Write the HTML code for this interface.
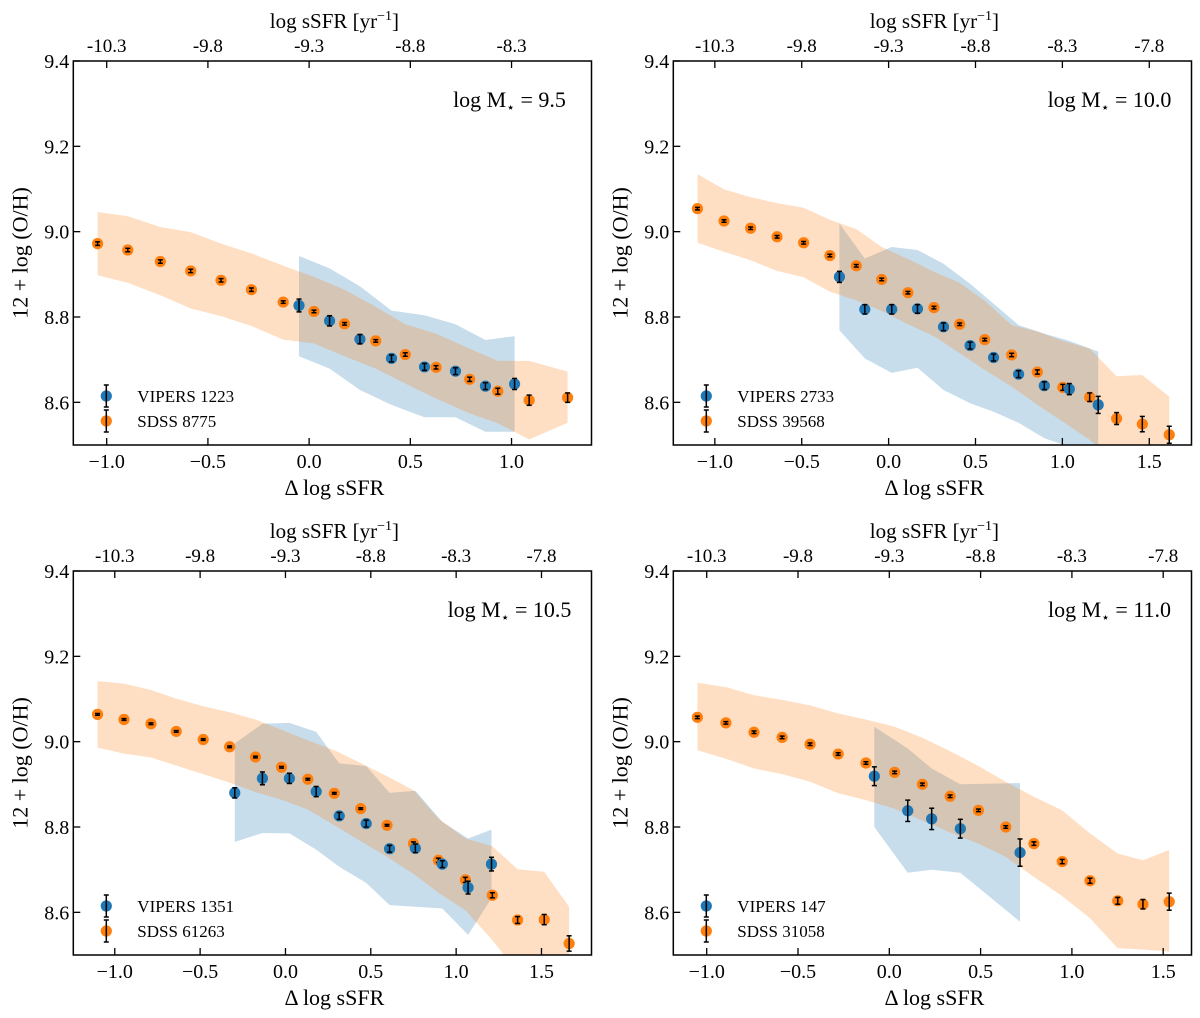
<!DOCTYPE html>
<html><head><meta charset="utf-8"><title>Metallicity vs sSFR</title>
<style>
html,body{margin:0;padding:0;background:#fff;}
svg{display:block;font-family:"Liberation Serif",serif;}
</style></head>
<body>
<svg id="fig" width="1200" height="1018" viewBox="0 0 1200 1018" xmlns="http://www.w3.org/2000/svg"></svg>
<script>
// ---------- Panel 1: log M = 9.5 ----------
const p1SdssX = [-1.045,-0.896,-0.735,-0.585,-0.435,-0.285,-0.128,0.024,0.175,0.329,0.475,0.627,0.793,0.932,1.087,1.277];
const p1SdssY = [8.972,8.957,8.930,8.908,8.886,8.864,8.835,8.813,8.784,8.744,8.712,8.682,8.654,8.626,8.605,8.611];
const p1SdssErr = [0.004,0.004,0.004,0.004,0.004,0.004,0.003,0.003,0.003,0.003,0.004,0.004,0.005,0.007,0.012,0.011];
const p1SdssHi = [9.046,9.036,9.011,8.999,8.972,8.949,8.920,8.894,8.864,8.824,8.783,8.761,8.726,8.697,8.697,8.672];
const p1SdssLo = [8.898,8.880,8.851,8.820,8.802,8.779,8.747,8.738,8.708,8.679,8.644,8.609,8.574,8.551,8.513,8.552];
const p1VipX = [-0.050,0.101,0.251,0.407,0.570,0.723,0.871,1.015];
const p1VipY = [8.827,8.791,8.748,8.703,8.683,8.673,8.638,8.643];
const p1VipErr = [0.015,0.012,0.011,0.008,0.008,0.008,0.008,0.013];
const p1VipHi = [8.943,8.914,8.872,8.815,8.804,8.783,8.746,8.755];
const p1VipLo = [8.708,8.679,8.629,8.594,8.565,8.565,8.531,8.531];

// ---------- Panel 2: log M = 10.0 ----------
const p2SdssX = [-1.100,-0.947,-0.794,-0.642,-0.489,-0.338,-0.186,-0.040,0.111,0.261,0.409,0.553,0.708,0.856,1.002,1.157,1.312,1.460,1.615];
const p2SdssY = [9.054,9.025,9.008,8.988,8.974,8.944,8.920,8.888,8.857,8.822,8.783,8.747,8.711,8.671,8.635,8.612,8.562,8.549,8.524];
const p2SdssErr = [0.003,0.003,0.003,0.003,0.003,0.003,0.003,0.003,0.003,0.003,0.003,0.003,0.004,0.005,0.007,0.010,0.014,0.018,0.020];
const p2SdssHi = [9.135,9.099,9.081,9.067,9.056,9.028,9.006,8.964,8.936,8.906,8.880,8.838,8.781,8.766,8.744,8.726,8.661,8.664,8.613];
const p2SdssLo = [8.974,8.953,8.933,8.908,8.893,8.859,8.839,8.814,8.783,8.755,8.715,8.676,8.637,8.594,8.555,8.512,8.460,8.440,8.420];
const p2VipX = [-0.283,-0.137,0.018,0.166,0.316,0.469,0.604,0.748,0.896,1.040,1.206];
const p2VipY = [8.894,8.818,8.818,8.819,8.777,8.733,8.705,8.666,8.639,8.631,8.594];
const p2VipErr = [0.013,0.011,0.011,0.010,0.009,0.008,0.008,0.008,0.009,0.013,0.020];
const p2VipHi = [9.019,8.937,8.964,8.957,8.925,8.878,8.831,8.781,8.761,8.744,8.719];
const p2VipLo = [8.769,8.703,8.669,8.681,8.629,8.598,8.578,8.552,8.516,8.496,8.465];

// ---------- Panel 3: log M = 10.5 ----------
const p3SdssX = [-1.101,-0.946,-0.788,-0.640,-0.482,-0.327,-0.176,-0.023,0.131,0.286,0.441,0.595,0.750,0.896,1.054,1.212,1.360,1.516,1.662];
const p3SdssY = [9.064,9.052,9.042,9.024,9.005,8.988,8.964,8.940,8.912,8.879,8.843,8.804,8.761,8.722,8.676,8.640,8.582,8.583,8.527];
const p3SdssErr = [0.002,0.002,0.002,0.002,0.002,0.002,0.002,0.002,0.002,0.002,0.002,0.002,0.004,0.005,0.006,0.006,0.008,0.012,0.018];
const p3SdssHi = [9.142,9.136,9.121,9.101,9.083,9.069,9.052,9.028,9.003,8.980,8.950,8.919,8.886,8.820,8.773,8.755,8.701,8.695,8.613];
const p3SdssLo = [8.986,8.972,8.963,8.944,8.924,8.904,8.882,8.864,8.841,8.804,8.767,8.730,8.690,8.646,8.605,8.535,8.460,8.440,8.420];
const p3VipX = [-0.297,-0.135,0.023,0.180,0.315,0.473,0.610,0.761,0.919,1.070,1.207];
const p3VipY = [8.880,8.914,8.914,8.883,8.826,8.808,8.749,8.750,8.713,8.658,8.713];
const p3VipErr = [0.012,0.015,0.012,0.012,0.008,0.008,0.008,0.010,0.008,0.015,0.016];
const p3VipHi = [8.996,9.042,9.044,9.023,8.949,8.943,8.880,8.885,8.812,8.773,8.794];
const p3VipLo = [8.765,8.786,8.785,8.747,8.707,8.669,8.617,8.613,8.609,8.547,8.633];

// ---------- Panel 4: log M = 11.0 ----------
const p4SdssX = [-1.051,-0.895,-0.741,-0.587,-0.434,-0.280,-0.128,0.029,0.181,0.333,0.488,0.638,0.792,0.947,1.099,1.251,1.389,1.533];
const p4SdssY = [9.057,9.044,9.022,9.010,8.994,8.971,8.950,8.928,8.900,8.872,8.839,8.800,8.761,8.719,8.674,8.627,8.619,8.625];
const p4SdssErr = [0.003,0.003,0.003,0.003,0.003,0.003,0.003,0.003,0.003,0.003,0.003,0.003,0.004,0.005,0.006,0.008,0.011,0.020];
const p4SdssHi = [9.138,9.128,9.109,9.098,9.085,9.066,9.052,9.035,9.009,8.978,8.943,8.906,8.871,8.839,8.785,8.738,8.722,8.746];
const p4SdssLo = [8.980,8.960,8.937,8.924,8.906,8.879,8.863,8.843,8.815,8.787,8.761,8.730,8.683,8.638,8.586,8.516,8.513,8.508];
const p4VipX = [-0.082,0.101,0.232,0.389,0.716];
const p4VipY = [8.919,8.838,8.819,8.796,8.740];
const p4VipErr = [0.022,0.025,0.025,0.022,0.032];
const p4VipHi = [9.035,8.984,8.937,8.900,8.903];
const p4VipLo = [8.800,8.693,8.700,8.693,8.578];

const topTickVals = [-10.3,-9.8,-9.3,-8.8,-8.3,-7.8];
const topTickDelta = [-1.0,-0.5,0.0,0.5,1.0,1.5];
const bottomTickVals = [-1.0,-0.5,0.0,0.5,1.0,1.5];
const yTickVals = [8.6,8.8,9.0,9.2,9.4];
const massLabels = ["9.5","10.0","10.5","11.0"];
const vipersCounts = ["1223","2733","1351","147"];
const sdssCounts = ["8775","39568","61263","31058"];

const NS = "http://www.w3.org/2000/svg";
const fig = document.getElementById('fig');
function mk(tag, attrs, parent){
  const e = document.createElementNS(NS, tag);
  for (const k in attrs) e.setAttribute(k, attrs[k]);
  (parent||fig).appendChild(e);
  return e;
}

const panels = [
  {L:73.3,R:591.5,T:61,B:445,xmin:-1.165,xmax:1.395,
   s:[p1SdssX,p1SdssY,p1SdssErr,p1SdssHi,p1SdssLo], v:[p1VipX,p1VipY,p1VipErr,p1VipHi,p1VipLo]},
  {L:673.3,R:1191.5,T:61,B:445,xmin:-1.239,xmax:1.743,
   s:[p2SdssX,p2SdssY,p2SdssErr,p2SdssHi,p2SdssLo], v:[p2VipX,p2VipY,p2VipErr,p2VipHi,p2VipLo]},
  {L:73.3,R:591.5,T:571,B:955,xmin:-1.243,xmax:1.793,
   s:[p3SdssX,p3SdssY,p3SdssErr,p3SdssHi,p3SdssLo], v:[p3VipX,p3VipY,p3VipErr,p3VipHi,p3VipLo]},
  {L:673.3,R:1191.5,T:571,B:955,xmin:-1.183,xmax:1.655,
   s:[p4SdssX,p4SdssY,p4SdssErr,p4SdssHi,p4SdssLo], v:[p4VipX,p4VipY,p4VipErr,p4VipHi,p4VipLo]}
];
const YMIN = 8.5, YMAX = 9.4;
const BLUE = "#1f77b4", ORANGE = "#ff7f0e";

panels.forEach((p, i) => {
  const g = mk('g', {});
  
  
  const xs = v => p.L + (v - p.xmin) / (p.xmax - p.xmin) * (p.R - p.L);
  const ys = v => p.B - (v - YMIN) / (YMAX - YMIN) * (p.B - p.T);

  const cp = mk('clipPath', {id: 'clip' + i}, g);
  mk('rect', {x:p.L, y:p.T, width:p.R-p.L, height:p.B-p.T}, cp);
  const plot = mk('g', {'clip-path': 'url(#clip' + i + ')'}, g);

  function band(X, Hi, Lo, color, op, name){
    let d = '';
    X.forEach((x, k) => { d += (k ? 'L' : 'M') + xs(x).toFixed(1) + ',' + ys(Hi[k]).toFixed(1); });
    for (let k = X.length - 1; k >= 0; k--) d += 'L' + xs(X[k]).toFixed(1) + ',' + ys(Lo[k]).toFixed(1);
    const b = mk('path', {d: d + 'Z', fill: color, 'fill-opacity': op, stroke: 'none'}, plot);
    
    
  }
  band(p.v[0], p.v[3], p.v[4], BLUE, 0.25, 'vipers-scatter-band');
  band(p.s[0], p.s[3], p.s[4], ORANGE, 0.25, 'sdss-scatter-band');

  function points(X, Y, E, color, name){
    X.forEach((x, k) => {
      const cx = xs(x), cy = ys(Y[k]);
      const pg = mk('g', {}, plot);
      
      
      mk('circle', {cx: cx, cy: cy, r: 5.6, fill: color}, pg);
      const y1 = ys(Y[k] + E[k]), y2 = ys(Y[k] - E[k]);
      mk('line', {x1: cx, x2: cx, y1: y1, y2: y2, stroke: '#000', 'stroke-width': 1.5}, pg);
      mk('line', {x1: cx-2.5, x2: cx+2.5, y1: y1, y2: y1, stroke: '#000', 'stroke-width': 1.5}, pg);
      mk('line', {x1: cx-2.5, x2: cx+2.5, y1: y2, y2: y2, stroke: '#000', 'stroke-width': 1.5}, pg);
    });
  }
  points(p.s[0], p.s[1], p.s[2], ORANGE, 'sdss');
  points(p.v[0], p.v[1], p.v[2], BLUE, 'vipers');

  const fr = mk('rect', {x:p.L, y:p.T, width:p.R-p.L, height:p.B-p.T, fill:'none', stroke:'#000', 'stroke-width':1.5}, g);
  
  

  bottomTickVals.forEach(v => {
    if (v < p.xmin || v > p.xmax) return;
    const x = xs(v);
    mk('line', {x1:x, x2:x, y1:p.B, y2:p.B-7, stroke:'#000', 'stroke-width':1.3}, g);
    const t = mk('text', {x:x, y:p.B+23, 'font-size':20, 'text-anchor':'middle'}, g);
    t.textContent = (v < 0 ? '\u2212' : '') + Math.abs(v).toFixed(1);
    
    
  });
  topTickDelta.forEach((v, k) => {
    if (v < p.xmin || v > p.xmax) return;
    const x = xs(v);
    mk('line', {x1:x, x2:x, y1:p.T, y2:p.T+7, stroke:'#000', 'stroke-width':1.3}, g);
    const t = mk('text', {x:x, y:p.T-9, 'font-size':19, 'text-anchor':'middle'}, g);
    t.textContent = topTickVals[k].toFixed(1);
    
    
  });
  yTickVals.forEach(v => {
    const y = ys(v);
    mk('line', {x1:p.L, x2:p.L+7, y1:y, y2:y, stroke:'#000', 'stroke-width':1.3}, g);
    const t = mk('text', {x:p.L-4, y:y+7, 'font-size':20, 'text-anchor':'end'}, g);
    t.textContent = v.toFixed(1);
    
    
  });

  const cx = (p.L + p.R) / 2;
  const xl = mk('text', {x:cx + 2, y:p.B + 50, 'font-size':22, 'text-anchor':'middle'}, g);
  xl.textContent = '\u0394 log sSFR';
  
  

  const tl = mk('text', {x:cx + 2, y:p.T - 33, 'font-size':21, 'text-anchor':'middle'}, g);
  tl.textContent = 'log sSFR [yr';
  const sup = mk('tspan', {dy:-8, 'font-size':14}, tl); sup.textContent = '\u22121';
  const cl = mk('tspan', {dy:8}, tl); cl.textContent = ']';
  
  

  const yl = mk('text', {x:0, y:0, 'font-size':22, 'text-anchor':'middle',
    transform:'translate(' + (p.L - 46) + ',' + ((p.T + p.B) / 2) + ') rotate(-90)'}, g);
  yl.textContent = '12 + log (O/H)';
  
  

  const ann = mk('text', {x:p.R - 82, y:p.T + 46, 'font-size':22, 'text-anchor':'middle'}, g);
  ann.textContent = 'log M';
  const sb = mk('tspan', {dy:5, 'font-size':14}, ann); sb.textContent = '\u22c6';
  const rest = mk('tspan', {dy:-5}, ann); rest.textContent = ' = ' + massLabels[i];
  
  

  const lg = mk('g', {}, g);
  
  
  [[BLUE, 'VIPERS ' + vipersCounts[i], 335], [ORANGE, 'SDSS ' + sdssCounts[i], 360]].forEach(([c, lab, dy]) => {
    const e = mk('g', {}, lg);
    
    
    const lx = p.L + 33, ly = p.T + dy;
    mk('circle', {cx:lx, cy:ly, r:5.6, fill:c}, e);
    mk('line', {x1:lx, x2:lx, y1:ly-11, y2:ly+11, stroke:'#000', 'stroke-width':1.5}, e);
    mk('line', {x1:lx-2.5, x2:lx+2.5, y1:ly-11, y2:ly-11, stroke:'#000', 'stroke-width':1.5}, e);
    mk('line', {x1:lx-2.5, x2:lx+2.5, y1:ly+11, y2:ly+11, stroke:'#000', 'stroke-width':1.5}, e);
    const t = mk('text', {x:lx + 31, y:ly + 6, 'font-size':17}, e);
    t.textContent = lab;
  });
});
</script>
</body></html>
